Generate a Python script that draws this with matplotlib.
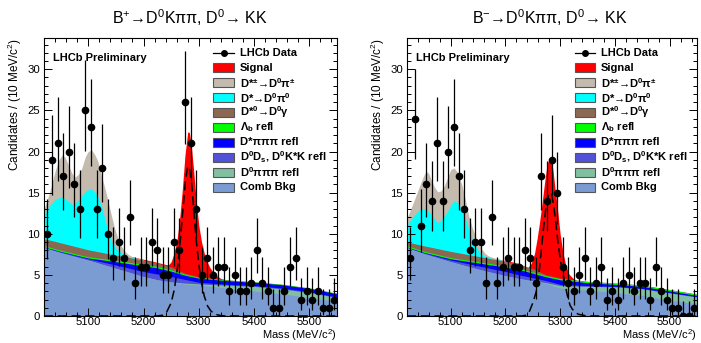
import numpy as np
import matplotlib
matplotlib.use("Agg")
import matplotlib.pyplot as plt
from matplotlib.patches import Rectangle
from matplotlib.ticker import MultipleLocator

plt.rcParams['font.family'] = ['Liberation Sans', 'DejaVu Sans']
plt.rcParams['mathtext.fontset'] = 'custom'
plt.rcParams['mathtext.rm'] = 'Liberation Sans'
plt.rcParams['mathtext.it'] = 'Liberation Sans'
plt.rcParams['mathtext.bf'] = 'Liberation Sans:bold'
plt.rcParams['mathtext.default'] = 'regular'

# ---- data ----
BIN_CENTRES = list(range(5025, 5550, 10))

COUNTS_PLUS = [10, 19, 21, 17, 20, 16, 13, 25, 23, 13, 18, 10, 7, 9, 7, 12, 4, 6, 6, 9,
               8, 5, 5, 9, 8, 26, 21, 13, 5, 7, 5, 6, 6, 3, 5, 3, 3, 4, 8, 4,
               3, 1, 1, 3, 6, 7, 2, 3, 2, 3, 1, 1, 2]
COUNTS_MINUS = [7, 24, 11, 16, 14, 21, 14, 20, 23, 17, 13, 8, 9, 9, 4, 12, 4, 6, 7, 6,
                6, 8, 7, 4, 17, 14, 19, 15, 6, 4, 3, 5, 7, 3, 4, 6, 2, 3, 2, 4,
                5, 3, 4, 4, 2, 6, 3, 2, 1, 1, 0, 0, 1]

# cumulative tops of the smooth background components
M_SMOOTH = [5020, 5050, 5100, 5150, 5200, 5225, 5250, 5275, 5300, 5350, 5400, 5450, 5500, 5550]

COMB_PLUS = [8.3, 7.7, 6.8, 5.8, 4.8, 4.4, 4.1, 3.9, 3.75, 3.4, 3.05, 2.7, 2.25, 1.75]
D0PIPIPI_PLUS = [8.3, 7.7, 6.8, 5.8, 4.8, 4.4, 4.15, 4.0, 3.9, 3.75, 3.6, 3.3, 2.85, 2.25]
D0DS_PLUS = [8.35, 7.8, 6.95, 6.2, 5.4, 5.1, 4.8, 4.45, 4.1, 3.85, 3.7, 3.4, 2.95, 2.3]
DSTPIPIPI_PLUS = [8.4, 7.85, 7.05, 6.6, 6.1, 5.85, 5.45, 4.95, 4.6, 4.3, 4.1, 3.8, 3.35, 2.7]
LAMBDAB_PLUS = [8.55, 8.0, 7.2, 6.78, 6.28, 6.03, 5.62, 5.08, 4.7, 4.38, 4.15, 3.85, 3.4, 2.75]
DSTGAMMA_PLUS = [9.4, 8.9, 8.05, 7.4, 6.8, 6.45, 5.95, 5.2, 4.75, 4.4, 4.17, 3.87, 3.42, 2.77]

COMB_MINUS = [8.3, 7.6, 6.6, 5.7, 4.9, 4.55, 4.25, 3.95, 3.4, 3.15, 2.85, 2.5, 1.95, 1.45]
D0PIPIPI_MINUS = [8.3, 7.6, 6.6, 5.7, 4.9, 4.55, 4.3, 4.05, 3.7, 3.6, 3.55, 3.3, 2.8, 2.3]
D0DS_MINUS = [8.35, 7.7, 6.8, 6.1, 5.4, 5.0, 4.65, 4.3, 3.85, 3.7, 3.6, 3.35, 2.85, 2.35]
DSTPIPIPI_MINUS = [8.4, 7.75, 6.95, 6.45, 5.95, 5.65, 5.2, 4.75, 4.4, 4.05, 3.85, 3.6, 3.05, 2.5]
LAMBDAB_MINUS = [8.55, 7.9, 7.1, 6.6, 6.1, 5.8, 5.35, 4.9, 4.55, 4.2, 4.0, 3.75, 3.2, 2.65]
DSTGAMMA_MINUS = [9.0, 8.55, 7.85, 7.25, 6.65, 6.3, 5.75, 4.98, 4.6, 4.22, 4.02, 3.77, 3.22, 2.67]

# D*0 -> D0 pi0 (cumulative top)
M_PI0_PLUS = [5020, 5030, 5040, 5052, 5063, 5073, 5085, 5095, 5105, 5115, 5124, 5130, 5136,
              5142, 5148, 5155, 5162, 5170, 5185, 5200]
PI0_PLUS = [12.3, 13.4, 14.2, 14.5, 14.0, 13.5, 14.3, 15.2, 15.5, 14.8, 13.4, 11.8, 10.2,
            9.1, 8.4, 7.9, 7.6, 7.25, 7.05, 6.8]
M_PI0_MINUS = [5020, 5030, 5043, 5055, 5065, 5076, 5085, 5094, 5100, 5106, 5112, 5121, 5127,
               5133, 5139, 5145, 5151, 5157, 5165, 5175, 5185, 5200]
PI0_MINUS = [11.0, 12.0, 12.9, 13.1, 12.3, 11.3, 11.9, 12.7, 13.5, 14.0, 13.8, 12.9, 11.8,
             10.5, 9.4, 8.5, 7.9, 7.5, 7.2, 7.0, 6.9, 6.65]

# D*+- -> D0 pi+- (cumulative top)
M_PIC_PLUS = [5020, 5030, 5040, 5047, 5053, 5058, 5064, 5070, 5076, 5082, 5088, 5095, 5100,
              5106, 5112, 5118, 5124, 5130, 5136, 5142, 5148, 5154, 5160, 5166, 5172, 5180,
              5190, 5200]
PIC_PLUS = [13.0, 15.0, 17.6, 19.0, 19.6, 19.3, 18.4, 17.4, 16.9, 17.2, 17.9, 19.4, 20.0,
            20.2, 19.6, 18.7, 17.0, 15.6, 13.9, 12.2, 10.6, 9.4, 8.5, 7.9, 7.5, 7.2,
            7.0, 6.8]
M_PIC_MINUS = [5020, 5031, 5043, 5050, 5055, 5060, 5064, 5070, 5076, 5082, 5088, 5094, 5100,
               5106, 5112, 5121, 5127, 5133, 5139, 5145, 5151, 5157, 5163, 5169, 5180, 5190,
               5200]
PIC_MINUS = [11.9, 13.7, 15.8, 17.0, 17.6, 17.3, 16.6, 15.7, 15.1, 15.2, 15.8, 16.8, 17.8,
             18.0, 17.5, 15.8, 14.0, 12.1, 10.8, 9.7, 8.8, 8.1, 7.6, 7.3, 7.05, 6.9, 6.65]

# signal on top of everything (total)
M_TOT_PLUS = [5150, 5180, 5200, 5220, 5235, 5245, 5250, 5255, 5260, 5265, 5270, 5275, 5280,
              5283, 5286, 5290, 5295, 5300, 5305, 5310, 5315, 5320, 5330, 5340, 5350, 5360]
TOT_PLUS = [7.45, 7.2, 6.9, 6.6, 6.35, 6.2, 6.6, 7.6, 9.0, 11.6, 15.2, 19.6, 22.4,
            22.3, 21.0, 18.2, 14.3, 11.0, 9.0, 7.6, 6.6, 5.9, 5.0, 4.55, 4.4, 4.3]
M_TOT_MINUS = [5150, 5200, 5225, 5235, 5241, 5247, 5253, 5258, 5262, 5266, 5271, 5276, 5281,
               5284, 5287, 5291, 5295, 5300, 5305, 5310, 5316, 5323, 5331, 5340, 5350]
TOT_MINUS = [7.3, 6.75, 6.4, 6.05, 5.9, 6.4, 7.6, 9.5, 11.3, 13.3, 16.0, 18.5, 19.3,
             19.0, 17.6, 15.2, 13.0, 9.9, 7.7, 6.2, 5.1, 4.6, 4.25, 4.0, 3.9]

# signal alone (dashed)
M_SIG_PLUS = [5020, 5225, 5235, 5242, 5250, 5256, 5262, 5267, 5272, 5276, 5280, 5283, 5287,
              5291, 5295, 5300, 5305, 5310, 5316, 5322, 5330, 5340, 5350, 5550]
SIG_PLUS = [0, 0, 0.1, 0.5, 1.6, 3.3, 6.2, 9.5, 13.5, 16.5, 18.2, 18.0, 16.2,
            12.8, 9.5, 6.3, 4.0, 2.4, 1.2, 0.6, 0.2, 0.05, 0, 0]
M_SIG_MINUS = [5020, 5230, 5238, 5244, 5250, 5256, 5261, 5265, 5270, 5275, 5280, 5284, 5288,
               5292, 5296, 5301, 5307, 5313, 5318, 5322, 5328, 5334, 5345, 5355, 5550]
SIG_MINUS = [0, 0, 0.1, 0.6, 1.6, 2.9, 5.0, 7.7, 11.0, 13.8, 15.0, 14.8, 13.5,
             11.3, 8.9, 6.5, 4.5, 2.5, 1.3, 0.85, 0.4, 0.2, 0.05, 0, 0]

TITLES = ["B$^{+}$→D$^{0}$Kππ, D$^{0}$→ KK",
          "B$^{-}$→D$^{0}$Kππ, D$^{0}$→ KK"]

LEGEND_LABELS = ["LHCb Data", "Signal",
                 "D*$^{±}$→D$^{0}$π$^{±}$",
                 "D*→D$^{0}$π$^{0}$",
                 "D*$^{0}$→D$^{0}$γ",
                 "Λ$_{b}$ refl",
                 "D*πππ refl",
                 "D$^{0}$D$_{s}$, D$^{0}$K*K refl",
                 "D$^{0}$πππ refl",
                 "Comb Bkg"]

C_SIGNAL = "#ff0000"
C_PIC = "#c4baae"
C_PI0 = "#00ffff"
C_GAMMA = "#8c6752"
C_LAMBDAB = "#00ff00"
C_DSTPIPIPI = "#0000ff"
C_D0DS = "#5252d8"
C_D0PIPIPI = "#80c0a0"
C_COMB = "#7b9bd3"
LEGEND_COLORS = [C_SIGNAL, C_PIC, C_PI0, C_GAMMA, C_LAMBDAB, C_DSTPIPIPI, C_D0DS,
                 C_D0PIPIPI, C_COMB]


def poisson_errors(n):
    n = np.asarray(n, dtype=float)
    hi = np.sqrt(n + 0.75) + 1.0
    with np.errstate(divide='ignore', invalid='ignore'):
        lo_lim = np.where(n > 0, n * (1 - 1 / (9 * n) - 1 / (3 * np.sqrt(n))) ** 3, 0.0)
    lo = n - lo_lim
    return lo, hi


def draw_legend(ax):
    # rows every ~14.9 px, first row ~15 px below the top of the frame
    h_ax = 278.0
    x0, x1, xt = 0.578, 0.648, 0.668
    for i, label in enumerate(LEGEND_LABELS):
        yc = 1 - (15 + 14.9 * i) / h_ax
        if i == 0:
            ax.plot([x0, x1], [yc, yc], color='black', lw=0.9, transform=ax.transAxes)
            ax.plot([(x0 + x1) / 2], [yc], 'o', color='black', ms=4, transform=ax.transAxes)
        else:
            col = LEGEND_COLORS[i - 1]
            ax.add_patch(Rectangle((x0, yc - 4.5 / h_ax), x1 - x0, 9 / h_ax,
                                   facecolor=col, edgecolor='#555555', lw=0.8,
                                   transform=ax.transAxes))
        ax.text(xt, yc, label, transform=ax.transAxes, fontsize=8.0, fontweight='bold',
                va='center', ha='left')


def draw_panel(ax, counts, comps, tot, sig, title_x, title):
    (m_tot, tot_vals) = tot
    ax.fill_between(m_tot, 0, tot_vals, color=C_SIGNAL, lw=0)
    for (mx, vals, col) in comps:
        ax.fill_between(mx, 0, vals, color=col, lw=0)
    ax.plot(sig[0], sig[1], color='black', ls=(0, (6, 3)), lw=1.1)

    lo, hi = poisson_errors(counts)
    ax.errorbar(BIN_CENTRES, counts, yerr=[lo, hi], xerr=5, fmt='o', color='black',
                ms=4.5, elinewidth=0.9, capsize=0)

    ax.set_xlim(5020, 5550)
    ax.set_ylim(0, 33.8)
    ax.xaxis.set_major_locator(MultipleLocator(100))
    ax.xaxis.set_minor_locator(MultipleLocator(20))
    ax.yaxis.set_major_locator(MultipleLocator(5))
    ax.yaxis.set_minor_locator(MultipleLocator(1))
    ax.tick_params(which='both', direction='in', top=True, right=True, labelsize=8.2,
                   width=0.7)
    ax.tick_params(axis='x', pad=0.5)
    ax.tick_params(axis='y', pad=3)
    ax.tick_params(which='major', length=6)
    ax.tick_params(which='minor', length=3)
    for s in ax.spines.values():
        s.set_linewidth(0.8)
    ax.set_xlabel("Mass (MeV/c$^{2}$)", fontsize=8.0, ha='right', va='top')
    ax.xaxis.set_label_coords(1.0, -0.041)
    ax.set_ylabel("Candidates / (10 MeV/c$^{2}$)", fontsize=8.5, loc='top', labelpad=2)

    ax.text(0.03, 0.928, "LHCb Preliminary", transform=ax.transAxes, fontsize=8,
            fontweight='bold', va='center', ha='left')
    draw_legend(ax)

    ax.figure.text(title_x, 0.95, title, fontsize=11.5, ha='center', va='center')


fig = plt.figure(figsize=(7.01, 3.43), dpi=100)
ax1 = fig.add_axes([44 / 701, 27 / 343, 293 / 701, 278 / 343])
ax2 = fig.add_axes([407 / 701, 27 / 343, 290 / 701, 278 / 343])

comps_plus = [
    (M_PIC_PLUS, PIC_PLUS, C_PIC),
    (M_PI0_PLUS, PI0_PLUS, C_PI0),
    (M_SMOOTH, DSTGAMMA_PLUS, C_GAMMA),
    (M_SMOOTH, LAMBDAB_PLUS, C_LAMBDAB),
    (M_SMOOTH, DSTPIPIPI_PLUS, C_DSTPIPIPI),
    (M_SMOOTH, D0DS_PLUS, C_D0DS),
    (M_SMOOTH, D0PIPIPI_PLUS, C_D0PIPIPI),
    (M_SMOOTH, COMB_PLUS, C_COMB),
]
comps_minus = [
    (M_PIC_MINUS, PIC_MINUS, C_PIC),
    (M_PI0_MINUS, PI0_MINUS, C_PI0),
    (M_SMOOTH, DSTGAMMA_MINUS, C_GAMMA),
    (M_SMOOTH, LAMBDAB_MINUS, C_LAMBDAB),
    (M_SMOOTH, DSTPIPIPI_MINUS, C_DSTPIPIPI),
    (M_SMOOTH, D0DS_MINUS, C_D0DS),
    (M_SMOOTH, D0PIPIPI_MINUS, C_D0PIPIPI),
    (M_SMOOTH, COMB_MINUS, C_COMB),
]

draw_panel(ax1, COUNTS_PLUS, comps_plus, (M_TOT_PLUS, TOT_PLUS), (M_SIG_PLUS, SIG_PLUS),
           190 / 701, TITLES[0])
draw_panel(ax2, COUNTS_MINUS, comps_minus, (M_TOT_MINUS, TOT_MINUS), (M_SIG_MINUS, SIG_MINUS),
           550 / 701, TITLES[1])

fig.savefig("out.png", dpi=100)
